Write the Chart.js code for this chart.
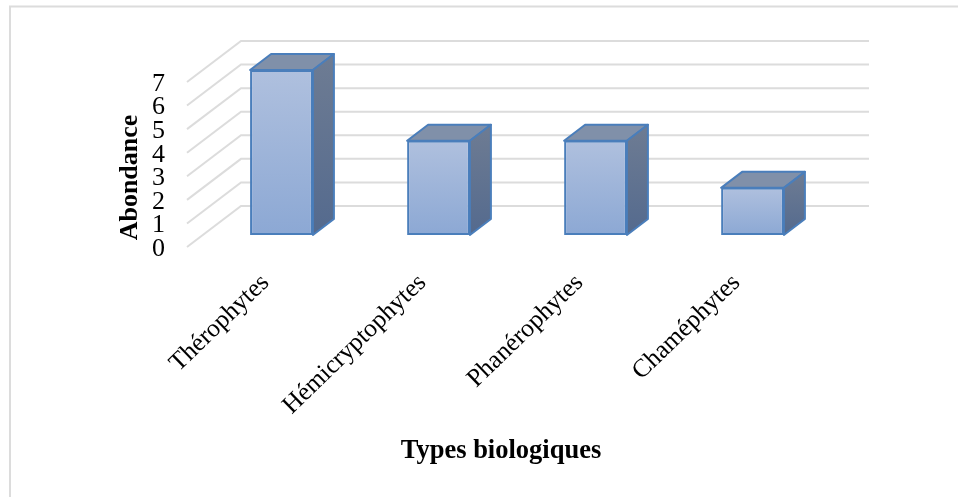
<!DOCTYPE html>
<html><head><meta charset="utf-8">
<style>html,body{margin:0;padding:0;background:#fff}#w{position:absolute;left:0;top:0;width:958px;height:497px}</style>
<script src="https://cdn.jsdelivr.net/npm/chart.js@4"></script>
</head><body><div id="w"><canvas id="c" width="958" height="497"></canvas></div>
<script>
const categories = ["Thérophytes","Hémicryptophytes","Phanérophytes","Chaméphytes"];
const abondance = [7,4,4,2];
const yTicks = [0,1,2,3,4,5,6,7];
const xTitle = "Types biologiques";
const yTitle = "Abondance";

// 3D projection, in pixels
const floorDx = 54, floorDy = 41;        // front of floor to back wall
const barInsetDx = 16, barInsetDy = 12;  // front of floor to front of bars
const barDx = 21, barDy = 16;            // depth of a bar
const catPx = 157, upp = 165/7;          // px per category, px per unit
const floorDrop = 26, axisMax = 7;       // extra room under the floor plane
const serif = '"Liberation Serif","Times New Roman",serif';

function linear(ctx, y0, y1, a, b){
  const g = ctx.createLinearGradient(0,y0,0,y1);
  g.addColorStop(0,a); g.addColorStop(1,b); return g;
}
function poly(ctx, pts, fill){
  ctx.beginPath();
  pts.forEach((p,i)=> i?ctx.lineTo(p[0],p[1]):ctx.moveTo(p[0],p[1]));
  ctx.closePath();
  ctx.fillStyle = fill; ctx.fill();
  ctx.lineWidth = 2; ctx.strokeStyle = '#4a7ebb'; ctx.lineJoin='round'; ctx.stroke();
}
const frame = {
  id:'frame',
  beforeDraw(chart){
    const c = chart.ctx, a = chart.chartArea, s = chart.scales.y;
    c.save();
    c.fillStyle='#fff'; c.fillRect(0,0,chart.width,chart.height);
    c.strokeStyle='#dcdcdc'; c.lineWidth=2;
    c.beginPath(); c.moveTo(10,chart.height); c.lineTo(10,6.5); c.lineTo(chart.width,6.5); c.stroke();
    c.lineWidth=2; c.strokeStyle='#dcdcdc';
    s.ticks.forEach(t=>{
      const y = s.getPixelForValue(t.value);
      c.beginPath();
      c.moveTo(a.left,y);
      c.lineTo(a.left+floorDx,y-floorDy);
      c.lineTo(a.right+floorDx,y-floorDy);
      c.stroke();
    });
    c.restore();
  },
  beforeDatasetsDraw(chart){
    const c = chart.ctx;
    c.save();
    chart.getDatasetMeta(0).data.forEach(b=>{
      const l=b.x-b.width/2, r=b.x+b.width/2, t=b.y, B=b.base;
      poly(c,[[l,t],[l+barDx,t-barDy],[r+barDx,t-barDy],[r,t]],'#8090a9');
      poly(c,[[r,t],[r+barDx,t-barDy],[r+barDx,B-barDy],[r,B]],linear(c,t-barDy,B,'#6e7c93','#546a8e'));
    });
    c.restore();
  }
};
new Chart(document.getElementById('c'),{
  type:'bar',
  plugins:[frame],
  data:{labels:categories,datasets:[{
    data:abondance.map((v,i)=>({x:i,y:v})), xAxisID:'xBars', yAxisID:'yBars', clip:false,
    barPercentage:1, categoryPercentage:0.8,
    borderColor:'#4a7ebb', borderWidth:2, borderSkipped:false,
    backgroundColor(ctx){
      const chart = ctx.chart;
      if(!chart.chartArea || !ctx.raw) return '#9fb4d9';
      const s = chart.scales.yBars;
      return linear(chart.ctx, s.getPixelForValue(ctx.raw.y), s.getPixelForValue(0), '#afc0de', '#8ca8d4');
    }
  }]},
  options:{
    responsive:false, animation:false, events:[],
    layout:{padding:{left:115,right:143,top:82,bottom:30}},
    plugins:{legend:{display:false},tooltip:{enabled:false}},
    scales:{
      x:{
        grid:{display:false},border:{display:false},
        ticks:{color:'#000',font:{family:serif,size:25.5},minRotation:44,maxRotation:44,padding:-13,autoSkip:false},
        title:{display:true,text:xTitle,color:'#000',font:{family:serif,size:26.5,weight:'bold'},padding:0},
        afterFit(s){ s.height = 497-273-30; }
      },
      xBars:{
        type:'linear',axis:'x',display:false,offset:false,
        min:-0.5-barInsetDx/catPx, max:categories.length-0.5-barInsetDx/catPx
      },
      y:{
        min:-floorDrop/upp,max:axisMax,
        grid:{display:false},border:{display:false},
        afterBuildTicks(s){ s.ticks = yTicks.map(v=>({value:v})); },
        ticks:{color:'#000',font:{family:serif,size:26},padding:14,labelOffset:2,autoSkip:false},
        title:{display:true,text:yTitle,color:'#000',font:{family:serif,size:26,weight:'bold'},padding:0},
        afterFit(s){ s.width = 187-115; }
      },
      yBars:{
        display:false,
        min:-(floorDrop+barInsetDy)/upp, max:axisMax-barInsetDy/upp
      }
    }
  }
});
</script></body></html>
